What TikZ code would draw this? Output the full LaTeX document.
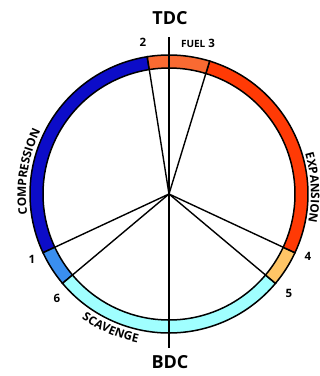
\documentclass[tikz,border=0pt]{standalone}
\usepackage{fontspec}
\setmainfont{Open Sans}
\usetikzlibrary{decorations.text}
\definecolor{cblue}{HTML}{0C0CC8}
\definecolor{cmid}{HTML}{3A8FF0}
\definecolor{ccyan}{HTML}{A0FFFF}
\definecolor{cpeach}{HTML}{FFC566}
\definecolor{cred}{HTML}{FF3A05}
\definecolor{corange}{HTML}{F96A32}
\newcommand\ringseg[3]{%
  \path[segment=#3] (#1:\Ri) -- (#1:\Ro) arc[start angle=#1, end angle=#2, radius=\Ro]
    -- (#2:\Ri) arc[start angle=#2, end angle=#1, radius=\Ri] -- cycle;}
\begin{document}
\begin{tikzpicture}[x=1pt,y=1pt,font=\bfseries,
  segment/.style={draw=black, line width=1.5pt, fill=#1},
  spoke/.style={draw=black, line width=1.4pt},
  num/.style={font=\fontsize{11.5}{12}\selectfont\bfseries, inner sep=0pt},
  big/.style={font=\fontsize{18}{20}\selectfont\bfseries, inner sep=0pt},
  arctext/.style={decorate, decoration={text along path, text align=center,
    text={|\fontsize{11.8}{12}\selectfont\bfseries|#1}}}]
\useasboundingbox (-169,-182) rectangle (151,194);
\def\Ri{126}\def\Ro{139}
\ringseg{99}{205}{cblue}
\ringseg{205}{220}{cmid}
\ringseg{220}{320}{ccyan}
\ringseg{320}{335}{cpeach}
\ringseg{-25}{73}{cred}
\ringseg{73}{99}{corange}
\coordinate (O) at (0,0);
\coordinate (p1) at (205:\Ri);
\coordinate (p2) at (99:\Ri);
\coordinate (p3) at (73:\Ri);
\coordinate (p4) at (-25:\Ri);
\coordinate (p5) at (-40:\Ri);
\coordinate (p6) at (220:\Ri);
\coordinate (top) at (0,157);
\coordinate (bot) at (0,-154);
\draw[spoke] (top) -- (bot);
\foreach \p in {p1,p2,p3,p4,p5,p6} \draw[spoke] (O) -- (\p);
\node[big] (tdc) at (1,176) {TDC};
\node[big] (bdc) at (1,-168) {BDC};
\node[num] (l2) at (-26,152) {2};
\node[num] (l3) at (29,151) {{\fontsize{10}{11}\selectfont FUEL} 3};
\node[num] (l1) at (-137,-65) {1};
\node[num] (l6) at (-112,-104) {6};
\node[num] (l4) at (139,-62) {4};
\node[num] (l5) at (120,-99) {5};
\path[arctext=COMPRESSION]
  (200:143) arc[start angle=200, end angle=142, radius=143];
\path[arctext=EXPANSION]
  (30:142) arc[start angle=30, end angle=-25, radius=142];
\path[arctext=SCAVENGE]
  (228:152) arc[start angle=228, end angle=265, radius=152];
\end{tikzpicture}
\end{document}
